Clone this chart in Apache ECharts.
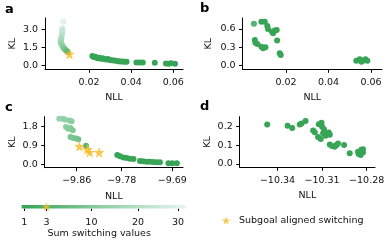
<!DOCTYPE html>
<html><head><meta charset="utf-8">
<script src="https://cdn.jsdelivr.net/npm/echarts@6/dist/echarts.min.js"></script>
<style>html,body{margin:0;padding:0;background:#fff}#c{width:389px;height:241px}</style>
</head><body><div id="c"></div>
<script>
// ---------- data ----------
const aNLL = [0.0078,0.0074,0.0072,0.0074,0.0071,0.0069,0.0068,0.0065,0.0066,0.0070,0.0073,0.0078,0.0083,0.0088,0.0094,0.0100,
  0.0216,0.0222,0.0230,0.0240,0.0248,0.0256,0.0265,0.0272,0.0280,0.0290,0.0298,0.0308,0.0318,0.0328,0.0338,0.0348,0.0358,0.0368,0.0378,0.0425,0.0440,0.0455,0.0512,0.0565,0.0578,0.0590,0.0608];
const aKL = [3.67,3.10,2.95,2.80,2.60,2.40,2.20,2.05,1.90,1.80,1.65,1.52,1.42,1.32,1.22,1.12,
  0.81,0.72,0.74,0.63,0.66,0.58,0.62,0.55,0.52,0.55,0.48,0.46,0.43,0.41,0.38,0.36,0.35,0.33,0.32,0.26,0.27,0.26,0.24,0.19,0.17,0.20,0.17];
const aSw = [30,27,25,24,22,20,18,17,15,14,12,11,9,8,6,5,
  1,1,1,1,1,1,1,1,1,1,1,1,1,1,1,1,1,1,1,1,1,1,1,1,1,1,1];
const aStarNLL = [0.0107];
const aStarKL = [0.975];

const bNLL = [0.0049,0.0084,0.0100,0.0112,0.0115,0.0134,0.0139,0.0147,0.0156,0.0158,0.0053,0.0056,0.0065,0.0084,0.0092,0.0103,0.0170,0.0175,
  0.0531,0.0547,0.0562,0.0574,0.0583,0.0555];
const bKL = [0.684,0.72,0.72,0.65,0.60,0.557,0.53,0.574,0.585,0.41,0.42,0.377,0.356,0.31,0.285,0.30,0.203,0.175,
  0.082,0.105,0.082,0.105,0.082,0.066];
const bSw = [4,1,1,1,1,1,1,1,1,1,1,1,1,1,1,1,1,1,1,1,1,1,1,1];

const cNLL = [-9.891,-9.885,-9.881,-9.873,-9.869,-9.879,-9.875,-9.871,-9.867,-9.871,-9.866,-9.861,-9.857,-9.8435,
  -9.7878,-9.783,-9.777,-9.771,-9.765,-9.759,-9.7475,-9.742,-9.736,-9.730,-9.724,-9.718,-9.712,-9.697,-9.690,-9.682];
const cKL = [2.18,2.18,2.15,2.10,2.06,1.79,1.70,1.74,1.63,1.31,1.26,1.23,1.20,0.89,
  0.45,0.38,0.33,0.30,0.27,0.25,0.16,0.14,0.125,0.12,0.11,0.10,0.095,0.05,0.05,0.05];
const cSw = [14,14,13,12,12,12,11,11,10,9,9,8,8,4,
  1,1,1,1,1,1,1,1,1,1,1,1,1,1,1,1];
const cStarNLL = [-9.855,-9.841,-9.837,-9.820];
const cStarKL = [0.86,0.72,0.58,0.57];

const dNLL = [-10.3469,-10.3332,-10.3301,-10.325,-10.3238,-10.3211,-10.316,-10.3149,-10.3122,-10.3104,-10.31,
  -10.3127,-10.3109,-10.3093,-10.3077,-10.3064,-10.3055,-10.3048,-10.3087,
  -10.3048,-10.3033,-10.3015,-10.3003,-10.2993,-10.2952,-10.2914,
  -10.2858,-10.2854,-10.284,-10.2825,-10.2825,-10.2836];
const dKL = [0.212,0.205,0.193,0.212,0.217,0.231,0.179,0.170,0.2135,0.221,0.20,
  0.144,0.134,0.165,0.151,0.161,0.169,0.156,0.186,
  0.104,0.096,0.092,0.101,0.109,0.101,0.057,
  0.065,0.052,0.047,0.061,0.078,0.075];
const dSw = dNLL.map(() => 1);

const aXTicks = [0.02,0.04,0.06], aYTicks = [0,1.5,3.0];
const bXTicks = [0.02,0.04,0.06], bYTicks = [0,0.3,0.6];
const cXTicks = [-9.86,-9.78,-9.69], cYTicks = [0,0.9,1.8];
const dXTicks = [-10.34,-10.31,-10.28], dYTicks = [0,0.1,0.2];

const cbTickValues = [1,3,10,20,30];
const cbTickPos = [0.016,0.151,0.425,0.709,0.953];
const cbStarValue = [3];

// ---------- style ----------
const FONT = 'DejaVu Sans';
const TXT = '#111';
const STAR = '#f8b91e';
const STAR_PATH = 'path://M50,0 L61.8,35.3 L100,35.3 L69.1,57.1 L80.9,92.7 L50,70.6 L19.1,92.7 L30.9,57.1 L0,35.3 L38.2,35.3 Z';
const cmapStops = [[0,[52,163,83]],[0.5,[144,208,164]],[1,[230,244,241]]];

function valueToPos(v){
  const xs=cbTickValues, ps=cbTickPos;
  let i=0; while(i<xs.length-2 && v>xs[i+1]) i++;
  return ps[i] + (v-xs[i])/(xs[i+1]-xs[i])*(ps[i+1]-ps[i]);
}
function posToColor(t){
  t=Math.max(0,Math.min(1,t));
  let i=0; while(i<cmapStops.length-2 && t>cmapStops[i+1][0]) i++;
  const [t0,c0]=cmapStops[i],[t1,c1]=cmapStops[i+1];
  const f=(t-t0)/(t1-t0);
  const c=c0.map((x,k)=>Math.round(x+(c1[k]-x)*f));
  return 'rgb('+c.join(',')+')';
}
const minus = s => s.replace('-', '\u2212');
const zip3 = (x,y,v) => x.map((d,i)=>[d,y[i],v[i]]);
const zip2 = (x,y) => x.map((d,i)=>[d,y[i]]);

const grids = [
  {left:45, top:18, width:138, height:51.3},
  {left:242.5, top:18, width:139.5, height:51.3},
  {left:44.7, top:116.7, width:138.3, height:51},
  {left:239.7, top:116.7, width:135.3, height:50.6},
  {left:21.7, top:205, width:164, height:3.5}
];

function xAx(g,min,max,ticks,dec){
  return {type:'value', gridIndex:g, min, max, name:'NLL', nameLocation:'middle', nameGap:23.5,
    nameTextStyle:{fontFamily:FONT,fontSize:9.5,color:TXT},
    splitLine:{show:false},
    axisLine:{show:true,onZero:false,lineStyle:{color:'#000',width:1}},
    axisTick:{show:true,length:3.5,customValues:ticks,lineStyle:{color:'#000',width:1}},
    axisLabel:{customValues:ticks,margin:8,fontFamily:FONT,fontSize:9.5,color:TXT,formatter:v=>minus(v.toFixed(dec))}};
}
function yAx(g,min,max,ticks,dec,gap){
  return {type:'value', gridIndex:g, min, max, name:'KL', nameLocation:'middle', nameGap:gap, nameRotate:90,
    nameTextStyle:{fontFamily:FONT,fontSize:9.5,color:TXT},
    splitLine:{show:false},
    axisLine:{show:true,onZero:false,lineStyle:{color:'#000',width:1}},
    axisTick:{show:true,length:3.5,customValues:ticks,lineStyle:{color:'#000',width:1}},
    axisLabel:{customValues:ticks,margin:7,fontFamily:FONT,fontSize:9.5,color:TXT,formatter:v=>v.toFixed(dec)}};
}

const dotColor = p => posToColor(valueToPos(p.value[2]));
function dots(i,x,y,v){
  return {type:'scatter', xAxisIndex:i, yAxisIndex:i, symbol:'circle', symbolSize:6,
    data:zip3(x,y,v), itemStyle:{color:dotColor, opacity:1}, silent:true, z:2};
}
function stars(i,x,y){
  return {type:'scatter', name:'Subgoal aligned switching', xAxisIndex:i, yAxisIndex:i, symbol:STAR_PATH,
    symbolSize:11, data:zip2(x,y), itemStyle:{color:STAR}, silent:true, z:3};
}

const option = {
  animation:false,
  backgroundColor:'#fff',
  title:[
    {text:'a',left:5,top:3},{text:'b',left:200,top:2},{text:'c',left:5,top:101},{text:'d',left:200,top:100}
  ].map(t=>Object.assign(t,{padding:0,textStyle:{fontFamily:FONT,fontSize:13,fontWeight:'bold',color:'#000'}})),
  grid:grids,
  xAxis:[
    xAx(0,-0.0009,0.0646,aXTicks,2),
    xAx(1,-0.0005,0.0652,bXTicks,2),
    xAx(2,-9.9169,-9.671,cXTicks,2),
    xAx(3,-10.3654,-10.2744,dXTicks,2),
    {type:'value',gridIndex:4,min:0,max:1,name:'Sum switching values',nameLocation:'middle',nameGap:20.5,
      nameTextStyle:{fontFamily:FONT,fontSize:9.5,color:TXT,padding:[0,9,0,0]},
      splitLine:{show:false},axisLine:{show:false},
      axisTick:{show:true,length:2.5,customValues:cbTickPos,lineStyle:{color:'#000',width:1}},
      axisLabel:{customValues:cbTickPos,margin:9.5,fontFamily:FONT,fontSize:9.5,color:TXT,
        formatter:v=>{const i=cbTickPos.findIndex(p=>Math.abs(p-v)<1e-6);return i>=0?String(cbTickValues[i]):'';}}}
  ],
  yAxis:[
    yAx(0,-0.3,3.975,aYTicks,1,27),
    yAx(1,-0.059,0.78,bYTicks,1,29),
    yAx(2,-0.163,2.28,cYTicks,1,27),
    yAx(3,-0.019,0.2536,dYTicks,1,27),
    {type:'category',gridIndex:4,data:[''],show:false}
  ],
  legend:{data:['Subgoal aligned switching'],left:221.7,top:215.5,itemWidth:16,itemHeight:8,padding:0,
    textStyle:{fontFamily:FONT,fontSize:9.5,color:TXT}},
  series:[
    dots(0,aNLL,aKL,aSw), stars(0,aStarNLL,aStarKL),
    dots(1,bNLL,bKL,bSw),
    dots(2,cNLL,cKL,cSw), stars(2,cStarNLL,cStarKL),
    dots(3,dNLL,dKL,dSw),
    {type:'bar',xAxisIndex:4,yAxisIndex:4,data:[1],barWidth:3.5,silent:true,
      itemStyle:{color:new echarts.graphic.LinearGradient(0,0,1,0,cmapStops.map(s=>({offset:s[0],color:'rgb('+s[1].join(',')+')'})))}},
    {type:'scatter',name:'Subgoal aligned switching',xAxisIndex:4,yAxisIndex:4,symbol:STAR_PATH,symbolSize:9,
      data:cbStarValue.map(v=>[valueToPos(v),0]),itemStyle:{color:STAR},silent:true,z:4}
  ]
};
echarts.init(document.getElementById('c'),null,{renderer:'canvas'}).setOption(option);
</script></body></html>
